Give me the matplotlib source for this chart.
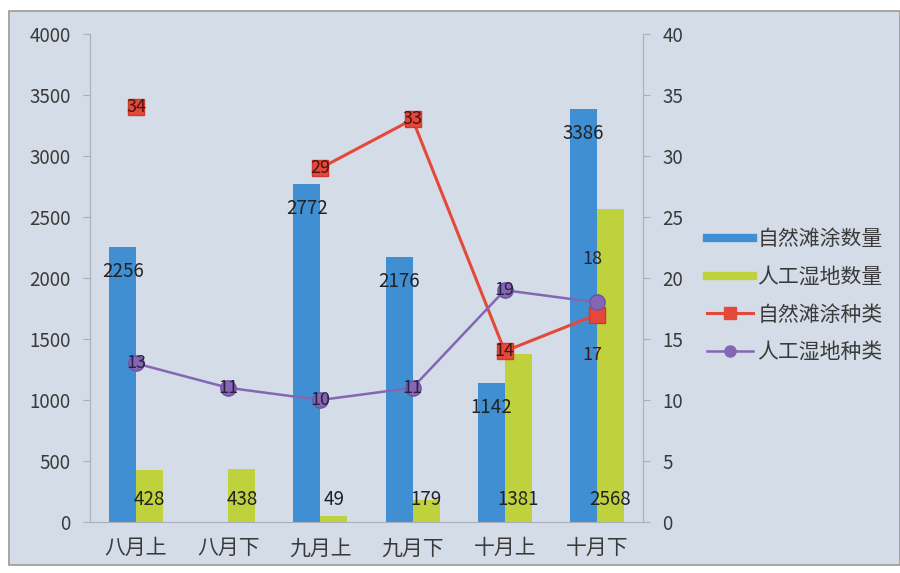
import matplotlib

matplotlib.use("Agg")
import matplotlib.pyplot as plt
import numpy as np
from matplotlib.lines import Line2D
from matplotlib.patches import Rectangle

plt.rcParams["font.family"] = ["Noto Sans CJK SC", "DejaVu Sans"]

periods = ["八月上", "八月下", "九月上", "九月下", "十月上", "十月下"]
natural_count = [2256, np.nan, 2772, 2176, 1142, 3386]
wetland_count = [428, 438, 49, 179, 1381, 2568]
natural_species = [34, np.nan, 29, 33, 14, 17]
wetland_species = [13, 11, 10, 11, 19, 18]
series_names = ["自然滩涂数量", "人工湿地数量", "自然滩涂种类", "人工湿地种类"]

BLUE = "#3f8fd2"
GREEN = "#bfd13c"
RED = "#e4483b"
PURPLE = "#8466b4"
BG = "#d4dce7"
AXIS = "#a9b0ba"
TEXT = "#3a3a3a"

W, H = 900, 573
fig = plt.figure(figsize=(W / 100, H / 100), dpi=100, facecolor="white")
fig.add_artist(Rectangle((9 / W, 8 / H), (W - 9) / W, (H - 19) / H,
                         transform=fig.transFigure, facecolor=BG,
                         edgecolor="#9a9a9a", lw=1.2, zorder=-1))

ax = fig.add_axes([90 / W, 51 / H, 553 / W, 488 / H])
ax.set_facecolor("none")
ax2 = ax.twinx()

x = np.arange(len(periods))
bw = 0.293
ax.bar(x - bw / 2, natural_count, bw, color=BLUE, zorder=2)
ax.bar(x + bw / 2, wetland_count, bw, color=GREEN, zorder=2)

# count labels: blue ones just under the bar top, green ones near the base
for i, v in enumerate(natural_count):
    if np.isnan(v):
        continue
    ax.annotate(f"{v:.0f}", (x[i] - bw / 2, v), xytext=(0, -18),
                textcoords="offset points", ha="center", va="center",
                fontsize=13.5, color="#222222", zorder=5)
for i, v in enumerate(wetland_count):
    ax.annotate(f"{v:.0f}", (x[i] + bw / 2, 0), xytext=(0, 16),
                textcoords="offset points", ha="center", va="center",
                fontsize=13.5, color="#222222", zorder=5)

ax2.plot(x, natural_species, color=RED, lw=2.2, marker="s", ms=12,
         mfc=RED, mec="#cf3a2e", zorder=3)
ax2.plot(x, wetland_species, color=PURPLE, lw=1.8, marker="o", ms=11,
         mfc=PURPLE, mec="#6f52a0", zorder=3)

last = len(periods) - 1
for i, v in enumerate(natural_species):
    if np.isnan(v):
        continue
    dy = -29 if i == last else 0
    ax2.annotate(f"{v:.0f}", (x[i], v), xytext=(-3 if i == last else 0, dy),
                 textcoords="offset points", ha="center", va="center",
                 fontsize=13, color="#4a1410", zorder=6)
for i, v in enumerate(wetland_species):
    dy = 31 if i == last else 0
    ax2.annotate(f"{v:.0f}", (x[i], v), xytext=(-3 if i == last else 0, dy),
                 textcoords="offset points", ha="center", va="center",
                 fontsize=13, color="#2a2040", zorder=6)

ax.set_xlim(-0.5, len(periods) - 0.5)
ax.set_ylim(0, 4000)
ax.set_yticks(range(0, 4001, 500))
ax2.set_ylim(0, 40)
ax2.set_yticks(range(0, 41, 5))
ax.set_xticks(x)
ax.set_xticklabels(periods)

for a in (ax, ax2):
    a.spines["top"].set_visible(False)
    for s in ("left", "right", "bottom"):
        a.spines[s].set_color(AXIS)
ax.spines["right"].set_visible(False)
ax2.spines["left"].set_visible(False)
ax2.spines["bottom"].set_visible(False)

ax.tick_params(axis="y", length=5, color=AXIS, pad=9, labelsize=13.5, labelcolor=TEXT)
ax2.tick_params(axis="y", length=5, color=AXIS, pad=9, labelsize=13.5, labelcolor=TEXT)
ax.tick_params(axis="x", length=0, pad=11, labelsize=15, labelcolor=TEXT)

handles = [
    Line2D([], [], color=BLUE, lw=6),
    Line2D([], [], color=GREEN, lw=6),
    Line2D([], [], color=RED, lw=2.2, marker="s", ms=8),
    Line2D([], [], color=PURPLE, lw=1.8, marker="o", ms=8),
]
fig.legend(handles, series_names, loc="upper left",
           bbox_to_anchor=(699 / W, 1 - 220 / H), frameon=False,
           fontsize=15, handlelength=2.2, handletextpad=0.2,
           labelspacing=0.75, borderaxespad=0, labelcolor=TEXT)

fig.savefig("out.png", dpi=100, facecolor="white")
